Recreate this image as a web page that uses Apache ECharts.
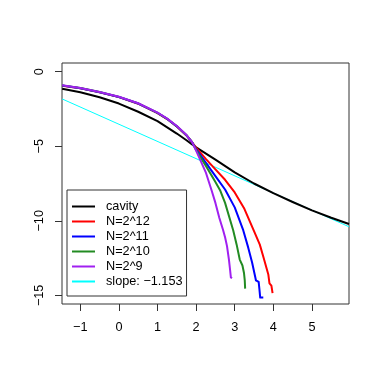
<!DOCTYPE html>
<html>
<head>
<meta charset="utf-8">
<script src="https://cdn.jsdelivr.net/npm/echarts@6/dist/echarts.min.js"></script>
<style>
  html, body { margin: 0; padding: 0; background: #fff; }
  #chart { width: 382px; height: 382px; }
</style>
</head>
<body>
<div id="chart"></div>
<script>
// axis ticks
var xTicks = [-1, 0, 1, 2, 3, 4, 5];
var yTicks = [0, -5, -10, -15];

// series as [x, y]
var cavity = [[-1.47, -1.14], [-1, -1.38], [-0.5, -1.72], [0, -2.14], [0.5, -2.69], [1, -3.32], [1.5, -4.15], [1.75, -4.6],
  [2, -5.08], [2.5, -5.9], [3, -6.75], [3.5, -7.5], [4, -8.15], [4.5, -8.74], [5, -9.3], [5.5, -9.8], [5.96, -10.22]];
var n12 = [[-1.47, -0.94], [-1, -1.12], [-0.5, -1.39], [0, -1.71], [0.5, -2.15], [1, -2.78], [1.25, -3.18], [1.5, -3.68],
  [1.75, -4.28], [1.9, -4.75], [2, -5.1], [2.25, -5.85], [2.5, -6.55], [2.75, -7.25], [3, -8.1], [3.25, -9.2], [3.5, -10.7],
  [3.65, -11.6], [3.75, -12.5], [3.87, -13.6], [3.9, -14.2], [3.95, -14.35], [3.98, -14.85]];
var n11 = [[-1.47, -0.93], [-1, -1.11], [-0.5, -1.38], [0, -1.7], [0.5, -2.14], [1, -2.77], [1.25, -3.17], [1.5, -3.67],
  [1.75, -4.27], [1.9, -4.75], [2, -5.2], [2.25, -6.1], [2.5, -7.0], [2.75, -7.9], [3, -9.1], [3.22, -10.63], [3.35, -11.8],
  [3.45, -12.8], [3.53, -13.75], [3.55, -14.0], [3.62, -14.1], [3.64, -14.6], [3.66, -15.15], [3.74, -15.15]];
var n10 = [[-1.47, -0.92], [-1, -1.1], [-0.5, -1.37], [0, -1.69], [0.5, -2.13], [1, -2.76], [1.25, -3.16], [1.5, -3.66],
  [1.75, -4.26], [1.9, -4.75], [2, -5.25], [2.25, -6.3], [2.5, -7.4], [2.62, -7.95], [2.75, -8.8], [2.96, -10.63],
  [3.05, -11.6], [3.13, -12.6], [3.2, -13.0], [3.24, -13.5], [3.26, -14.0], [3.27, -14.55]];
var n9 = [[-1.47, -0.91], [-1, -1.09], [-0.5, -1.36], [0, -1.68], [0.5, -2.12], [1, -2.75], [1.25, -3.15], [1.5, -3.65],
  [1.75, -4.25], [1.9, -4.75], [2, -5.3], [2.25, -6.75], [2.4, -7.95], [2.5, -8.8], [2.6, -9.8], [2.7, -10.63],
  [2.75, -11.1], [2.8, -11.7], [2.85, -12.6], [2.88, -13.3], [2.9, -13.8], [2.93, -13.85]];
var slopeLine = [[-1.47, -1.83], [5.96, -10.4]];

var names = ['cavity', 'N=2^12', 'N=2^11', 'N=2^10', 'N=2^9', 'slope: \u22121.153'];
var colors = ['#000000', '#ff0000', '#0000ff', '#228b22', '#a020f0', '#00ffff'];

var font = 'Liberation Sans, Arial, Helvetica, sans-serif';
function minus(v) { return String(v).replace('-', '\u2212'); }

function mk(i, data, width, z) {
  return {
    name: names[i], type: 'line', data: data, symbol: 'none', z: z,
    lineStyle: { color: colors[i], width: width, join: 'round' },
    itemStyle: { color: colors[i] }
  };
}

var chart = echarts.init(document.getElementById('chart'));
chart.setOption({
  animation: false,
  textStyle: { fontFamily: font },
  grid: { left: 62, top: 63, right: 33, bottom: 78, show: true, borderColor: '#333', borderWidth: 1 },
  legend: {
    orient: 'vertical', left: 67, top: 190,
    data: names,
    icon: 'rect',
    itemWidth: 23, itemHeight: 2, itemGap: 0,
    padding: [9, 4, 7, 5],
    borderColor: '#333', borderWidth: 1,
    textStyle: { fontFamily: font, fontSize: 12.7, lineHeight: 15, color: '#000', padding: [0, 0, 0, 6] }
  },
  xAxis: {
    type: 'value', min: -1.474, max: 5.96,
    axisLine: { show: false, onZero: false },
    splitLine: { show: false },
    axisTick: { show: true, length: 7, lineStyle: { color: '#333' }, customValues: xTicks },
    axisLabel: { customValues: xTicks, margin: 17, fontSize: 12.7, color: '#000', fontFamily: font, formatter: minus }
  },
  yAxis: {
    type: 'value', min: -15.58, max: 0.58,
    axisLine: { show: false, onZero: false },
    splitLine: { show: false },
    axisTick: { show: true, length: 7, lineStyle: { color: '#333' }, customValues: yTicks },
    axisLabel: { customValues: yTicks, margin: 16, rotate: 90, fontSize: 12.7, color: '#000', fontFamily: font, formatter: minus }
  },
  series: [
    mk(0, cavity, 2, 2),
    mk(1, n12, 2, 3),
    mk(2, n11, 2, 4),
    mk(3, n10, 2, 5),
    mk(4, n9, 2, 6),
    mk(5, slopeLine, 1, 1)
  ]
});
</script>
</body>
</html>
